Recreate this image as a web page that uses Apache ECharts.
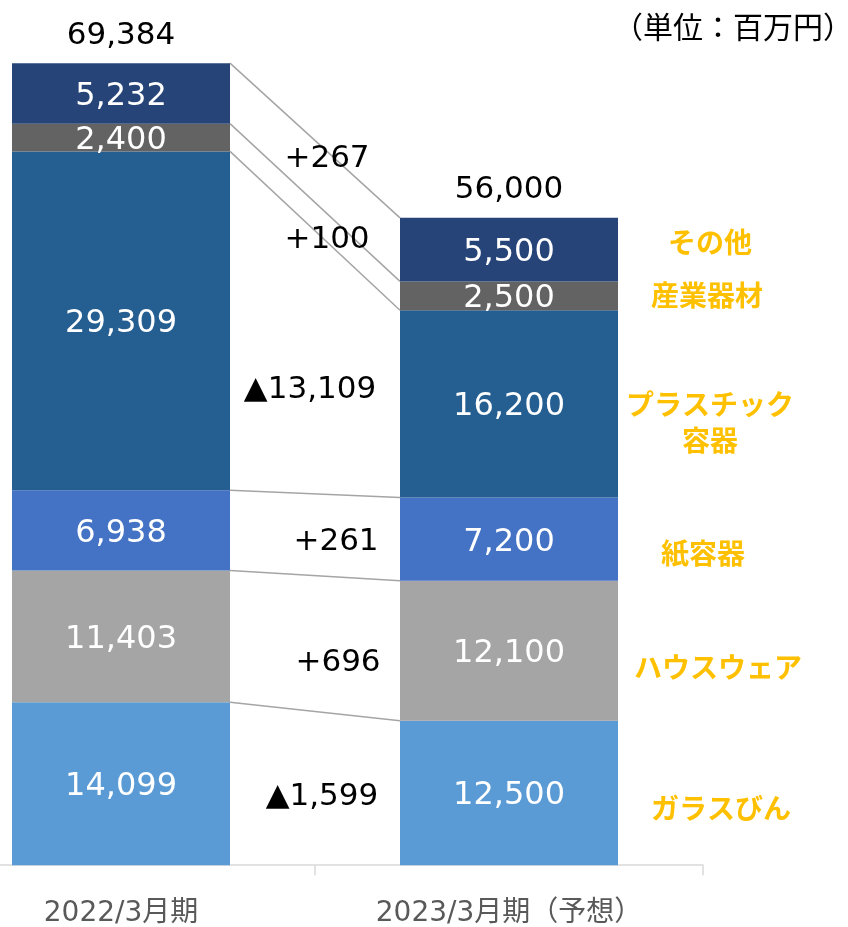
<!DOCTYPE html>
<html>
<head>
<meta charset="utf-8">
<script src="https://cdn.jsdelivr.net/npm/echarts@6/dist/echarts.min.js"></script>
<style>html,body{margin:0;padding:0;background:#fff}#c{width:848px;height:927px}</style>
</head>
<body>
<div id="c"></div>
<script>
var categories = ['2022/3月期', '2023/3月期（予想）'];
var glass = [14099, 12500];
var houseware = [11403, 12100];
var paper = [6938, 7200];
var plastic = [29309, 16200];
var industrial = [2400, 2500];
var other = [5232, 5500];
var totals = [69384, 56000];
var segNames = ['ガラスびん', 'ハウスウェア', '紙容器', 'プラスチック容器', '産業器材', 'その他'];
var segLabels = ['ガラスびん', 'ハウスウェア', '紙容器', 'プラスチック\n容器', '産業器材', 'その他'];
var diffLabels = ['▲1,599', '+696', '+261', '▲13,109', '+100', '+267'];
var unitText = '（単位：百万円）';

var segData = [glass, houseware, paper, plastic, industrial, other];
var colors = ['#5B9BD5', '#A5A5A5', '#4472C4', '#255E91', '#636363', '#264478'];
var FONT = '"DejaVu Sans", "Noto Sans CJK JP", sans-serif';
var BW = 218;

function fmt(v) { return v.toLocaleString('en-US'); }

var tops = [];
var c1 = 0, c2 = 0;
for (var i = 0; i < segData.length; i++) {
  c1 += segData[i][0]; c2 += segData[i][1];
  tops.push([0, c1, c2]);
}

var series = segData.map(function (d, i) {
  return {
    name: segNames[i], type: 'bar', stack: 'a', barWidth: BW,
    itemStyle: { color: colors[i] },
    data: d,
    label: {
      show: true, position: 'inside', color: '#fff', offset: [0, 3],
      fontFamily: FONT, fontSize: 32,
      formatter: function (p) { return fmt(p.value); }
    },
    emphasis: { disabled: true }, z: 3
  };
});
series.push({
  type: 'bar', stack: 'a', barWidth: BW, data: [0, 0],
  itemStyle: { color: 'transparent' },
  label: {
    show: true, position: 'top', distance: 12, color: '#000',
    fontFamily: FONT, fontSize: 31,
    formatter: function (p) { return fmt(totals[p.dataIndex]); }
  }, z: 3
});
series.push({
  type: 'custom', z: 2,
  data: tops,
  encode: { x: 0, y: 1 },
  renderItem: function (params, api) {
    var p1 = api.coord([0, api.value(1)]);
    var p2 = api.coord([1, api.value(2)]);
    return {
      type: 'line',
      shape: { x1: p1[0] + BW / 2, y1: p1[1], x2: p2[0] - BW / 2, y2: p2[1] },
      style: { stroke: '#A5A5A5', lineWidth: 1.5 }
    };
  }
});

var diffPos = [[322, 797], [338, 663], [336, 542], [310, 390], [327, 240], [327, 159]];
var segLabelPos = [[721, 808], [718, 667], [703, 553], [710, 422], [707, 295], [710, 242]];
var graphics = [];
diffLabels.forEach(function (t, i) {
  graphics.push({
    type: 'text', x: diffPos[i][0], y: diffPos[i][1], z: 10,
    style: { text: t, font: '31px ' + FONT, fill: '#000', textAlign: 'center', textVerticalAlign: 'middle' }
  });
});
segLabels.forEach(function (t, i) {
  graphics.push({
    type: 'text', x: segLabelPos[i][0], y: segLabelPos[i][1], z: 10,
    style: { text: t, font: 'bold 28px "Noto Sans CJK JP", sans-serif', fill: '#FFC000', textAlign: 'center', textVerticalAlign: 'middle', lineHeight: 36 }
  });
});
graphics.push({
  type: 'text', x: 733, y: 27, z: 10,
  style: { text: unitText, font: '30px "Noto Sans CJK JP", sans-serif', fill: '#000', textAlign: 'center', textVerticalAlign: 'middle' }
});

var chart = echarts.init(document.getElementById('c'), null, { renderer: 'canvas' });
chart.setOption({
  animation: false,
  grid: { left: -73, top: 56, width: 776, height: 809.2, containLabel: false, outerBoundsMode: 'none' },
  xAxis: {
    type: 'category', data: categories,
    axisLine: { lineStyle: { color: '#D9D9D9', width: 1.5 } },
    axisTick: { show: true, length: 10, lineStyle: { color: '#D9D9D9', width: 1.5 } },
    axisLabel: { color: '#595959', fontSize: 28, fontFamily: FONT, margin: 35 }
  },
  yAxis: { type: 'value', min: 0, max: 70000, show: false, splitLine: { show: false } },
  series: series,
  graphic: graphics
});
</script>
</body>
</html>
